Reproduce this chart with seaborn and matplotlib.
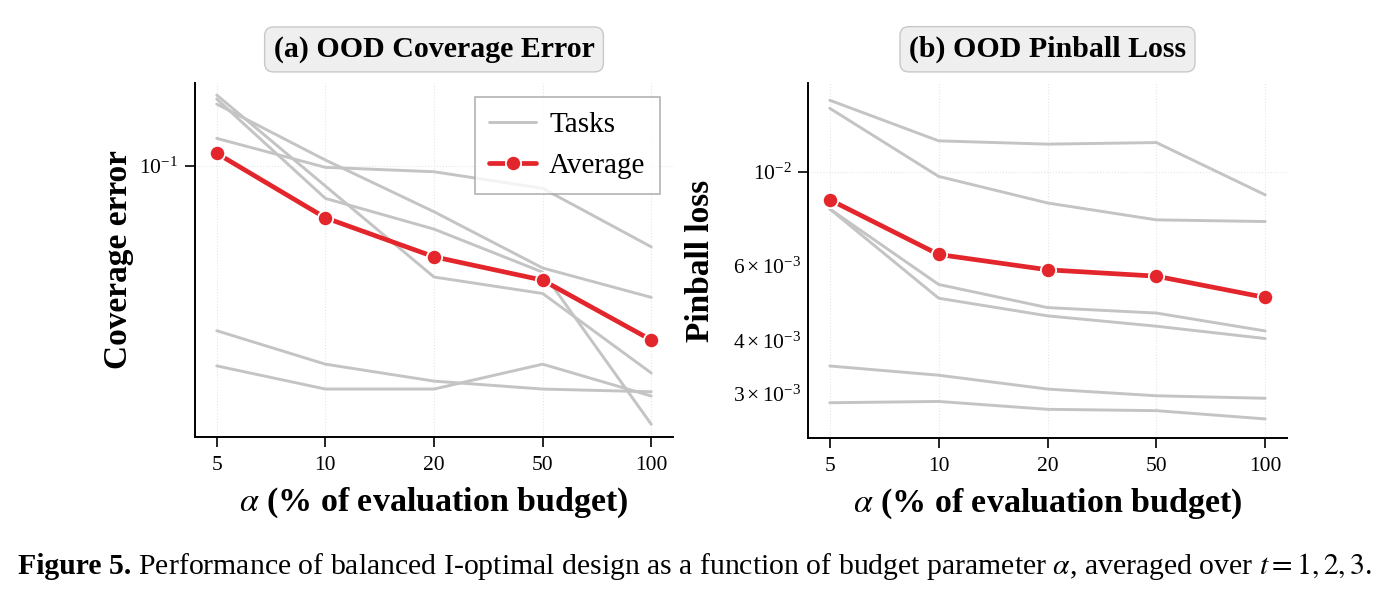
import numpy as np
import pandas as pd
import matplotlib
matplotlib.use("Agg")
import matplotlib.pyplot as plt
import seaborn as sns

# ---- data ----
budgets = ["5", "10", "20", "50", "100"]

cov_task1 = [0.1641, 0.0870, 0.0461, 0.0411, 0.0236]
cov_task2 = [0.1596, 0.0798, 0.0644, 0.0477, 0.0165]
cov_task3 = [0.1541, 0.1043, 0.0727, 0.0491, 0.0400]
cov_task4 = [0.1213, 0.0991, 0.0961, 0.0856, 0.0569]
cov_task5 = [0.0317, 0.0251, 0.0223, 0.0211, 0.0207]
cov_task6 = [0.0248, 0.0211, 0.0211, 0.0251, 0.0201]
cov_avg = [0.1093, 0.0697, 0.0531, 0.0451, 0.0297]

pin_task1 = [0.01475, 0.01183, 0.01162, 0.01172, 0.00882]
pin_task2 = [0.01412, 0.00975, 0.00844, 0.00770, 0.00763]
pin_task3 = [0.00817, 0.00542, 0.00478, 0.00464, 0.00421]
pin_task4 = [0.00817, 0.00503, 0.00457, 0.00432, 0.00404]
pin_task5 = [0.00348, 0.00331, 0.00307, 0.00296, 0.00292]
pin_task6 = [0.00285, 0.00287, 0.00275, 0.00273, 0.00261]
pin_avg = [0.00859, 0.00638, 0.00587, 0.00567, 0.00505]

cov_tasks = [cov_task1, cov_task2, cov_task3, cov_task4, cov_task5, cov_task6]
pin_tasks = [pin_task1, pin_task2, pin_task3, pin_task4, pin_task5, pin_task6]

titles = ["(a) OOD Coverage Error", "(b) OOD Pinball Loss"]
ylabels = ["Coverage error", "Pinball loss"]
xlabel = r"$\alpha$ (% of evaluation budget)"

# ---- style ----
sns.set_theme(style="ticks")
plt.rcParams["font.family"] = ["Liberation Serif", "DejaVu Serif"]
plt.rcParams["mathtext.fontset"] = "stix"
for k in ["text.color", "axes.labelcolor", "xtick.color", "ytick.color"]:
    plt.rcParams[k] = "black"

TASK_COLOR = "#c4c4c4"
AVG_COLOR = "#e3262b"

fig = plt.figure(figsize=(13.87, 5.98), dpi=100)
W, H = 1387, 598
ax_boxes = [(195, 83, 673, 437), (808, 83, 1287, 438)]
ylims = [(0.0151, 0.1785), (0.002353, 0.0162)]
ylabelpads = [4, 12]

xpos = np.arange(len(budgets))

for i, (box, tasks, avg, ylim) in enumerate(zip(ax_boxes, [cov_tasks, pin_tasks],
                                                  [cov_avg, pin_avg], ylims)):
    x0, y0, x1, y1 = box
    ax = fig.add_axes([x0 / W, 1 - y1 / H, (x1 - x0) / W, (y1 - y0) / H])
    df = pd.DataFrame({
        "x": np.tile(xpos, len(tasks)),
        "value": np.concatenate(tasks),
        "task": np.repeat(np.arange(len(tasks)), len(xpos)),
    })
    sns.lineplot(data=df, x="x", y="value", units="task", estimator=None,
                 color=TASK_COLOR, lw=2.1, ax=ax, legend=False)
    ax.lines[0].set_label("Tasks")
    sns.lineplot(x=xpos, y=avg, color=AVG_COLOR, lw=3.4, marker="o",
                 markersize=11, markeredgecolor="white", markeredgewidth=1.3,
                 ax=ax, label="Average", zorder=5)
    ax.set_yscale("log")
    ax.set_ylim(*ylim)
    ax.set_xlim(-0.2, 4.2)
    ax.set_xticks(xpos)
    ax.set_xticklabels(budgets)
    sns.despine(ax=ax)
    for s in ["left", "bottom"]:
        ax.spines[s].set_linewidth(1.4)
        ax.spines[s].set_color("black")
    ax.tick_params(axis="both", which="major", labelsize=15.5, length=7, width=1.2,
                   color="black", pad=5)
    ax.tick_params(axis="x", which="major", pad=7)
    ax.tick_params(axis="y", which="minor", labelsize=15.5, length=0, pad=5)
    ax.grid(True, which="major", linestyle=":", linewidth=0.8, color="#e6e6e6")
    ax.set_axisbelow(True)
    ax.set_xlabel(xlabel, fontsize=24.5, fontweight="bold", labelpad=7)
    ax.set_ylabel(ylabels[i], fontsize=24, fontweight="bold", labelpad=ylabelpads[i])
    ax.set_title(titles[i], fontsize=21.5, fontweight="bold", pad=19,
                 bbox=dict(boxstyle="round,pad=0.3,rounding_size=0.3",
                           facecolor="#efefef", edgecolor="#c8c8c8", linewidth=1))
    if i == 0:
        leg = ax.legend(loc="upper right", fontsize=21, frameon=True, fancybox=False,
                        edgecolor="#a0a0a0", handlelength=1.6, handletextpad=0.45,
                        borderpad=0.5, labelspacing=0.5, borderaxespad=0,
                        bbox_to_anchor=(0.9728, 0.960))
        leg.get_frame().set_linewidth(1.2)
    else:
        lg = ax.get_legend()
        if lg is not None:
            lg.remove()

# caption
t1 = fig.text(18 / W, 1 - 566 / H, "Figure 5.", fontsize=21.4, fontweight="bold",
              va="center", ha="left")
fig.canvas.draw()
ax0 = fig.axes[0]
ax0.annotate(r" Performance of balanced I-optimal design as a function of budget parameter "
             r"$\alpha$, averaged over $t = 1, 2, 3$.",
             xy=(1, 0.5), xycoords=t1, va="center", ha="left", fontsize=21.4,
             annotation_clip=False)

fig.savefig("out.png", dpi=100)
